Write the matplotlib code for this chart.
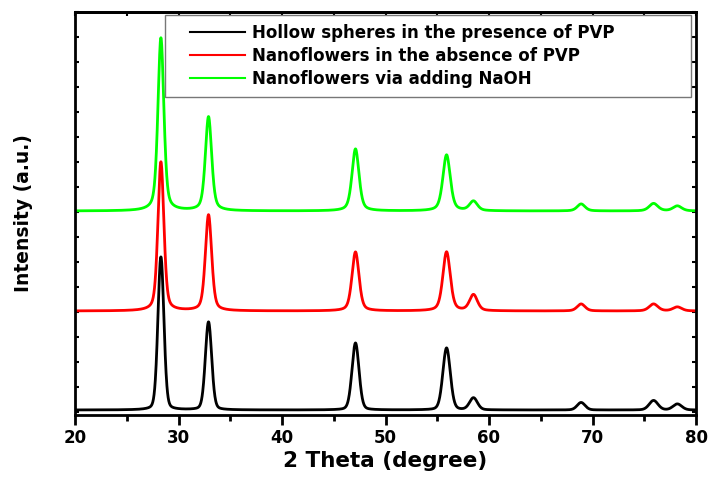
import numpy as np
import matplotlib
matplotlib.use("Agg")
import matplotlib.pyplot as plt
from matplotlib.ticker import MultipleLocator, FixedLocator, NullFormatter
from matplotlib.patches import Rectangle

plt.rcParams['font.family'] = ['DejaVu Sans']
plt.rcParams['font.weight'] = 'bold'

# ---- data ----
labels = ["Hollow spheres in the presence of PVP",
          "Nanoflowers in the absence of PVP",
          "Nanoflowers via adding NaOH"]
colors = ["#000000", "#ff0000", "#00ff00"]
peak_pos = [28.3, 32.9, 47.1, 55.9, 58.5, 68.9, 75.9, 78.2]
peak_fwhm = [0.68, 0.72, 0.8, 0.85, 0.9, 0.9, 1.0, 1.0]
black_heights = [153, 88, 67, 62, 12, 7.5, 9.5, 6]
red_heights = [149, 96, 59, 59, 16, 7, 7, 4]
green_heights = [173, 94, 62, 56, 9.5, 7, 7.5, 5]
offsets = [5, 104, 204]
lorentz_frac = [0.2, 0.4, 0.45]
heights = [black_heights, red_heights, green_heights]

x = np.linspace(20, 80, 3001)


def profile(h_list, eta):
    y = np.zeros_like(x)
    for p, w, h in zip(peak_pos, peak_fwhm, h_list):
        g = np.exp(-4 * np.log(2) * ((x - p) / w) ** 2)
        l = 1.0 / (1.0 + 4 * ((x - p) / w) ** 2)
        y += h * ((1 - eta) * g + eta * l)
    return y


W, H = 708, 483
fig = plt.figure(figsize=(W / 100, H / 100), dpi=100)
ax = fig.add_axes([75 / W, 1 - 415 / H, 621 / W, 403 / H])

for hs, off, eta, c, lab in zip(heights, offsets, lorentz_frac, colors, labels):
    ax.plot(x, profile(hs, eta) + off, color=c, lw=2.0, label=lab)

ax.set_xlim(20, 80)
ax.set_ylim(0, 403)
ax.set_autoscale_on(False)

for s in ax.spines.values():
    s.set_linewidth(2.0)

ax.xaxis.set_major_locator(MultipleLocator(10))
ax.xaxis.set_minor_locator(MultipleLocator(5))
ax.tick_params(axis='x', which='major', direction='out', length=7, width=2.0,
               labelsize=12, pad=3)
ax.tick_params(axis='x', which='minor', direction='out', length=4, width=2.0)
for t in ax.get_xticklabels():
    t.set_fontweight('bold')

ax.yaxis.set_major_locator(FixedLocator(np.arange(3, 404, 25)))
ax.yaxis.set_major_formatter(NullFormatter())
ax.tick_params(axis='y', which='major', direction='in', length=3, width=1.5,
               left=True, right=True)

top = ax.secondary_xaxis('top')
top.xaxis.set_major_locator(MultipleLocator(5))
top.xaxis.set_major_formatter(NullFormatter())
top.tick_params(direction='in', length=3, width=1.5)
top.spines['top'].set_linewidth(2.0)

ax.set_xlabel("2 Theta (degree)", fontsize=15.5, fontweight='bold', labelpad=3)
ax.set_ylabel("Intensity (a.u.)", fontsize=13.5, fontweight='bold', labelpad=27)

# legend frame (figure pixel box 165..691 x 15..97)
frame = Rectangle((165 / W, 1 - 97 / H), (691 - 165) / W, (97 - 15) / H,
                  transform=fig.transFigure, facecolor='white',
                  edgecolor='#777777', lw=1.0, zorder=4, clip_on=False)
ax.add_artist(frame)

leg = ax.legend(loc='upper left', bbox_to_anchor=(190 / W, 1 - 24 / H),
                bbox_transform=fig.transFigure, frameon=False,
                borderaxespad=0, borderpad=0,
                prop={'family': 'DejaVu Sans', 'weight': 'bold', 'size': 12},
                handlelength=3.3, handletextpad=0.42, labelspacing=0.3)
leg.set_zorder(5)
for line in leg.get_lines():
    line.set_linewidth(1.5)

fig.savefig("out.png", dpi=100)
